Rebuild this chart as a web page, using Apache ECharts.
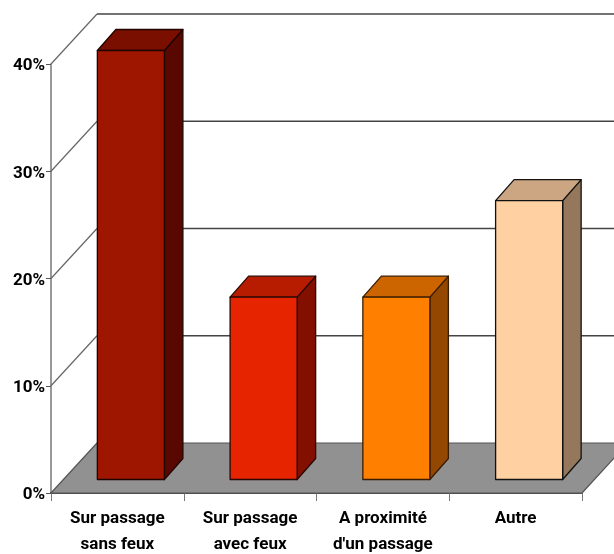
<!DOCTYPE html>
<html>
<head>
<meta charset="utf-8">
<style>html,body{margin:0;padding:0;background:#fff}#c{width:614px;height:554px}</style>
<script src="https://cdn.jsdelivr.net/npm/echarts@6/dist/echarts.min.js"></script>
</head>
<body>
<div id="c"></div>
<script>
const categories = ['Sur passage\nsans feux', 'Sur passage\navec feux', 'A proximité\nd\'un passage', 'Autre'];
const values = [40, 17, 17, 26];
const yTicks = [0, 10, 20, 30, 40];

const palette = [
  {front:'#9e1500', top:'#7a0f00', side:'#580800', line:'#200400'},
  {front:'#e62500', top:'#b81c00', side:'#830f00', line:'#2a0700'},
  {front:'#ff7f00', top:'#cc6400', side:'#934700', line:'#3a1c00'},
  {front:'#ffd0a2', top:'#cca683', side:'#95785c', line:'#111111'}
];
const WALL = [46, -50];     // full depth of the box
const BAR_IN = [13.5, -13.5]; // where the bars' front face sits inside the box
const BAR_DEPTH = [18.5, -21];
const FONT = 'Roboto, "DejaVu Sans Condensed", sans-serif';

function poly(pts, fill, stroke, w) {
  return {type:'polygon', shape:{points:pts}, style:{fill, stroke, lineWidth:w, lineJoin:'round'}};
}
function line(a, b, color, w) {
  return {type:'line', shape:{x1:a[0],y1:a[1],x2:b[0],y2:b[1]}, style:{stroke:color, lineWidth:w, fill:null}};
}

function renderWall(params, api) {
  const cs = params.coordSys;
  const y = api.coord([0, api.value(1)])[1];
  const x0 = cs.x, bx = x0 + WALL[0], by = y + WALL[1];
  const children = [line([x0, y], [bx, by], '#666', 1.2)];
  children.push(line([bx, by], [cs.x + cs.width + WALL[0], by], '#444', 1.5));
  return {type:'group', children};
}
function renderFloor(params, api) {
  const cs = params.coordSys;
  const y = api.coord([0, 0])[1];
  const l = cs.x, r = cs.x + cs.width;
  return {type:'group', children:[
    poly([[l,y],[r,y],[r+WALL[0],y+WALL[1]],[l+WALL[0],y+WALL[1]]], '#919191', '#555', 1.2)
  ]};
}
function renderBar(params, api) {
  const i = params.dataIndex;
  const c = palette[i];
  const band = api.size([1, 0])[0];
  const w = band * 0.505;
  const top = api.coord([api.value(0), api.value(1)]);
  const base = api.coord([api.value(0), 0]);
  const xl = top[0] - w / 2 + BAR_IN[0], xr = xl + w;
  const yt = top[1] + BAR_IN[1], yb = base[1] + BAR_IN[1];
  const dx = BAR_DEPTH[0], dy = BAR_DEPTH[1];
  return {type:'group', children:[
    poly([[xr,yt],[xr+dx,yt+dy],[xr+dx,yb+dy],[xr,yb]], c.side, c.line, 1.3),
    poly([[xl,yt],[xl+dx,yt+dy],[xr+dx,yt+dy],[xr,yt]], c.top, c.line, 1.3),
    poly([[xl,yt],[xr,yt],[xr,yb],[xl,yb]], c.front, c.line, 1.3)
  ]};
}

const chart = echarts.init(document.getElementById('c'), null, {renderer:'canvas'});
chart.setOption({
  animation:false,
  backgroundColor:'#fff',
  grid:{left:51, right:32, top:64, bottom:61, containLabel:false, outerBoundsMode:'none'},
  xAxis:{
    type:'category', data:categories, boundaryGap:true,
    axisLine:{show:true, lineStyle:{color:'#111', width:1.5}},
    axisTick:{show:true, alignWithLabel:false, length:8, lineStyle:{color:'#777', width:1}},
    axisLabel:{interval:0, margin:13, color:'#000', fontFamily:FONT, fontWeight:'bold', fontSize:17, lineHeight:26}
  },
  yAxis:{
    type:'value', min:0, max:40, interval:10,
    axisLine:{show:true, lineStyle:{color:'#777', width:1.5}},
    axisTick:{show:true, length:5, lineStyle:{color:'#555', width:1}},
    splitLine:{show:false},
    axisLabel:{margin:6, color:'#000', fontFamily:FONT, fontWeight:'bold', fontSize:17, verticalAlign:'top', lineHeight:4, formatter:'{value}%'}
  },
  series:[
    {type:'custom', name:'floor', z:1, silent:true, clip:false, renderItem:renderFloor, data:[[0,0]], encode:{x:0,y:1}},
    {type:'custom', name:'walls', z:2, silent:true, clip:false, renderItem:renderWall,
      data:yTicks.filter(v=>v>0).map(v=>[0,v]), encode:{x:0,y:1}},
    {type:'custom', name:'bars', z:3, silent:true, clip:false, renderItem:renderBar,
      data:values.map((v,i)=>[i,v]), encode:{x:0,y:1}}
  ]
});
</script>
</body>
</html>
